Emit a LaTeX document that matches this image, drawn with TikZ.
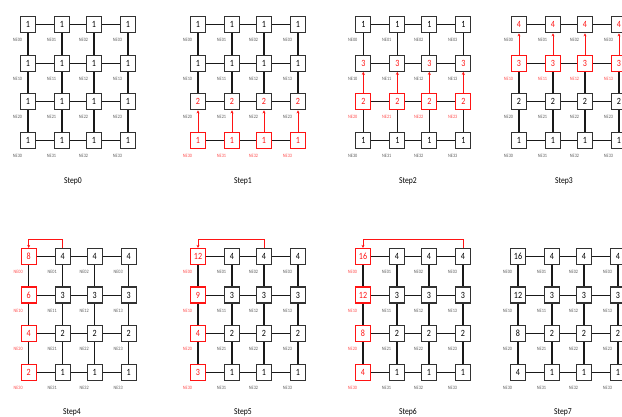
\documentclass[tikz,border=0pt]{standalone}
\usepackage{fontspec}
\setmainfont{Carlito}[FakeStretch=0.85]
\usetikzlibrary{arrows.meta}
\definecolor{boxblack}{RGB}{50,50,50}
\definecolor{labgray}{RGB}{95,95,95}
\definecolor{myred}{RGB}{255,20,20}
\definecolor{labred}{RGB}{255,80,80}
\tikzset{
 pebox/.style={draw=boxblack, fill=white, line width=1.2pt, minimum width=15pt, minimum height=16pt, inner sep=0pt, font=\fontsize{9.5}{9.5}\selectfont},
 pelab/.style={inner sep=0pt, font=\fontsize{5}{5}\selectfont},
 link/.style={line width=1.1pt, black!90},
 redarr/.style={line width=0.8pt, myred, -{Stealth[length=3pt,width=3pt]}},
 steptitle/.style={font=\fontsize{9}{9}\selectfont}
}
% #1 name, #2 x0, #3 y0, #4 list v/c, #5 upper row of red vertical links (-1 none)
\newcommand\pegrid[5]{%
 \foreach \v/\c [count=\i from 0] in {#4}{
   \pgfmathtruncatemacro\rr{\i/4}
   \pgfmathtruncatemacro\cc{mod(\i,4)}
   \pgfmathsetmacro\px{#2+{0,34,66,100}[\cc]}
   \pgfmathsetmacro\py{#3+38.55*\rr}
   \ifcase\c \def\bc{boxblack}\def\dc{black}\def\lc{labgray}\or \def\bc{boxblack}\def\dc{myred}\def\lc{labgray}\or \def\bc{myred}\def\dc{myred}\def\lc{labred}\fi
   \node[pebox, draw=\bc, text=\dc] (#1-\rr-\cc) at (\px,\py) {\v};
   \node[pelab, text=\lc] (#1-\rr-\cc-l) at (\px-10.5,\py+15.5) {NE\rr\cc};
 }
 \foreach \r in {0,...,3}{
   \foreach \a/\b in {0/1,1/2,2/3}{
     \draw[link] (#1-\r-\a) -- (#1-\r-\b);
     \ifnum\a=#5\relax\else\draw[link] (#1-\a-\r) -- (#1-\b-\r);\fi
   }
 }
}
\begin{document}
\begin{tikzpicture}[x=1pt,y=-1pt]
\useasboundingbox (0,0) rectangle (622,416);
\clip (0,0) rectangle (622,416);
\fill[white] (0,0) rectangle (622,416);

% ---- top row of steps
\pegrid{s0}{28}{24.7}{1/0,1/0,1/0,1/0, 1/0,1/0,1/0,1/0, 1/0,1/0,1/0,1/0, 1/0,1/0,1/0,1/0}{-1}
\pegrid{s1}{198}{24.7}{1/0,1/0,1/0,1/0, 1/0,1/0,1/0,1/0, 2/1,2/1,2/1,2/1, 1/2,1/2,1/2,1/2}{2}
\pegrid{s2}{363.3}{24.7}{1/0,1/0,1/0,1/0, 3/1,3/1,3/1,3/1, 2/2,2/2,2/2,2/2, 1/0,1/0,1/0,1/0}{1}
\pegrid{s3}{519}{24.7}{4/1,4/1,4/1,4/1, 3/2,3/2,3/2,3/2, 2/0,2/0,2/0,2/0, 1/0,1/0,1/0,1/0}{0}

\foreach \k in {0,...,3}{
  \draw[redarr] (s1-3-\k) -- (s1-2-\k);
  \draw[redarr] (s2-2-\k) -- (s2-1-\k);
  \draw[redarr] (s3-1-\k) -- (s3-0-\k);
}

% ---- bottom row of steps
\pegrid{s4}{28.7}{256.5}{8/2,4/0,4/0,4/0, 6/2,3/0,3/0,3/0, 4/2,2/0,2/0,2/0, 2/2,1/0,1/0,1/0}{-1}
\pegrid{s5}{198}{256.5}{12/2,4/0,4/0,4/0, 9/2,3/0,3/0,3/0, 4/2,2/0,2/0,2/0, 3/2,1/0,1/0,1/0}{-1}
\pegrid{s6}{363}{256.5}{16/2,4/0,4/0,4/0, 12/2,3/0,3/0,3/0, 8/2,2/0,2/0,2/0, 4/2,1/0,1/0,1/0}{-1}
\pegrid{s7}{518}{256.5}{16/0,4/0,4/0,4/0, 12/0,3/0,3/0,3/0, 8/0,2/0,2/0,2/0, 4/0,1/0,1/0,1/0}{-1}

\draw[redarr] (s4-0-1.north) -- ++(0,-9) -| (s4-0-0.north);
\draw[redarr] (s5-0-2.north) -- ++(0,-9) -| (s5-0-0.north);
\draw[redarr] (s6-0-3.north) -- ++(0,-9) -| (s6-0-0.north);

% ---- titles
\node[steptitle] (t0) at (73,181) {Step0};
\node[steptitle] (t1) at (243,181) {Step1};
\node[steptitle] (t2) at (408,181) {Step2};
\node[steptitle] (t3) at (564,181) {Step3};
\node[steptitle] (t4) at (72,412) {Step4};
\node[steptitle] (t5) at (243,412) {Step5};
\node[steptitle] (t6) at (408,412) {Step6};
\node[steptitle] (t7) at (563,412) {Step7};
\end{tikzpicture}
\end{document}
